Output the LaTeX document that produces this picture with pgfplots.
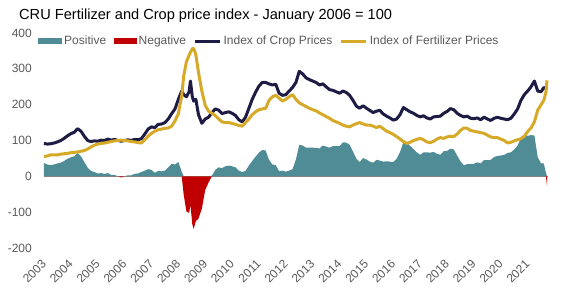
\documentclass[border=0pt]{standalone}
\usepackage{pgfplots}
\pgfplotsset{compat=1.18}
\usepackage{pgfplotstable}
\usepackage{fontspec}
\setmainfont{Liberation Sans}
\definecolor{posc}{RGB}{79,140,150}
\definecolor{negc}{RGB}{192,0,0}
\definecolor{cropc}{RGB}{30,27,68}
\definecolor{fertc}{RGB}{214,170,40}
\definecolor{txtc}{RGB}{89,89,89}

\pgfplotstableread{
t crop fert pos neg
2003.000 92 55 37 0
2003.125 90 57 33 0
2003.250 91 60 31 0
2003.375 93 60 33 0
2003.500 96 60 36 0
2003.625 100 62 38 0
2003.750 106 63 43 0
2003.875 113 64 49 0
2004.000 119 66 53 0
2004.125 123 67 56 0
2004.250 133 68 65 0
2004.375 126 70 56 0
2004.500 112 72 40 0
2004.625 100 76 24 0
2004.750 97 82 15 0
2004.875 99 87 12 0
2005.000 98 90 8 0
2005.125 101 92 9 0
2005.250 100 93 7 0
2005.375 104 95 9 0
2005.500 101 97 4 0
2005.625 103 99 4 0
2005.750 100 100 0 0
2005.875 98 101 0 -3
2006.000 100 100 0 0
2006.125 102 99 3 0
2006.250 100 97 3 0
2006.375 103 96 7 0
2006.500 102 94 8 0
2006.625 105 93 12 0
2006.750 118 102 16 0
2006.875 132 112 20 0
2007.000 138 120 18 0
2007.125 136 126 10 0
2007.250 145 130 15 0
2007.375 146 132 14 0
2007.500 150 134 16 0
2007.625 160 135 25 0
2007.750 175 140 35 0
2007.875 188 155 33 0
2008.000 215 175 40 0
2008.125 238 225 13 0
2008.200 228 280 0 -52
2008.300 222 320 0 -98
2008.400 236 338 0 -102
2008.450 266 346 0 -80
2008.520 222 356 0 -134
2008.570 210 357 0 -147
2008.650 215 340 0 -125
2008.750 172 290 0 -118
2008.875 148 238 0 -90
2009.000 160 198 0 -38
2009.125 165 182 0 -17
2009.250 178 176 2 0
2009.375 188 170 18 0
2009.500 185 160 25 0
2009.625 175 152 23 0
2009.750 178 150 28 0
2009.875 180 150 30 0
2010.000 176 148 28 0
2010.125 170 145 25 0
2010.250 158 142 16 0
2010.375 152 140 12 0
2010.500 165 150 15 0
2010.625 190 160 30 0
2010.750 215 172 43 0
2010.875 235 180 55 0
2011.000 252 186 66 0
2011.125 262 188 74 0
2011.250 262 190 72 0
2011.375 258 212 46 0
2011.500 255 222 33 0
2011.625 257 226 31 0
2011.750 232 218 14 0
2011.875 226 210 16 0
2012.000 228 215 13 0
2012.125 238 222 16 0
2012.250 248 228 20 0
2012.375 262 215 47 0
2012.500 293 205 88 0
2012.625 286 200 86 0
2012.750 275 195 80 0
2012.875 270 190 80 0
2013.000 266 186 80 0
2013.125 262 183 79 0
2013.250 255 177 78 0
2013.375 258 172 86 0
2013.500 250 167 83 0
2013.625 242 162 80 0
2013.750 240 156 84 0
2013.875 236 152 84 0
2014.000 232 148 84 0
2014.125 238 143 95 0
2014.250 234 140 94 0
2014.375 226 138 88 0
2014.500 212 143 69 0
2014.625 196 147 49 0
2014.750 190 150 40 0
2014.875 197 146 51 0
2015.000 190 143 47 0
2015.125 184 143 41 0
2015.250 178 140 38 0
2015.375 182 136 46 0
2015.500 184 140 44 0
2015.625 174 133 41 0
2015.750 168 126 42 0
2015.875 163 122 41 0
2016.000 157 117 40 0
2016.125 160 111 49 0
2016.250 172 104 68 0
2016.375 192 97 95 0
2016.500 186 92 94 0
2016.625 180 95 85 0
2016.750 176 100 76 0
2016.875 170 103 67 0
2017.000 166 106 60 0
2017.125 169 102 67 0
2017.250 163 96 67 0
2017.375 160 94 66 0
2017.500 166 98 68 0
2017.625 167 104 63 0
2017.750 168 108 60 0
2017.875 176 106 70 0
2018.000 181 110 71 0
2018.125 189 112 77 0
2018.250 186 111 75 0
2018.375 176 118 58 0
2018.500 170 128 42 0
2018.625 166 135 31 0
2018.750 168 134 34 0
2018.875 162 128 34 0
2019.000 161 126 35 0
2019.125 163 124 39 0
2019.250 158 122 36 0
2019.375 165 120 45 0
2019.500 160 115 45 0
2019.625 156 110 46 0
2019.750 162 108 54 0
2019.875 165 108 57 0
2020.000 162 104 58 0
2020.125 160 100 60 0
2020.250 158 93 65 0
2020.375 162 95 67 0
2020.500 174 99 75 0
2020.625 188 102 86 0
2020.750 212 105 107 0
2020.875 228 112 116 0
2021.000 238 125 113 0
2021.125 250 135 115 0
2021.250 266 152 114 0
2021.375 238 185 53 0
2021.500 236 200 36 0
2021.600 248 212 36 0
2021.680 245 235 10 0
2021.720 242 268 0 -26
}\data

\begin{document}
\begin{tikzpicture}[x=1pt,y=1pt]
\path[use as bounding box] (0,0) rectangle (569,298);
\node[anchor=base west, inner sep=0pt, font=\fontsize{14.6}{17}\selectfont] at (19,278) {CRU Fertilizer and Crop price index - January 2006 = 100};
\begin{axis}[
  at={(44pt,50pt)}, anchor=south west,
  scale only axis, width=504pt, height=215pt,
  xmin=2003, xmax=2021.757, ymin=-200, ymax=400,
  ytick={-200,-100,...,400},
  xtick={2003,2004,...,2021},
  axis line style={draw=none},
  major tick length=0pt,
  tick label style={font=\fontsize{12}{14}\selectfont, text=txtc},
  /pgf/number format/assume math mode=true,
  /pgf/number format/1000 sep={},
  yticklabel style={anchor=east, inner sep=0pt, xshift=-12pt},
  xticklabel style={rotate=45, anchor=east, inner sep=0pt},
  xticklabel shift=14pt,
  extra y ticks={0}, extra y tick labels={},
  extra y tick style={grid=major, major grid style={draw=gray!80, line width=0.9pt}},
  clip=false,
  legend columns=4,
  legend style={at={(-0.0119,0.9628)}, anchor=west, draw=none, fill=none,
    inner sep=0pt, font=\fontsize{12}{14}\selectfont, text=txtc,
    nodes={inner sep=0pt},
    /tikz/every odd column/.append style={column sep=2pt},
    /tikz/every even column/.append style={column sep=7.5pt}},
]
\addplot[draw=none, fill=posc,
  legend image code/.code={\fill[posc] (0pt,-3pt) rectangle (24pt,3pt);}]
  table[x=t, y=pos] {\data} \closedcycle;
\addlegendentry{Positive}
\addplot[draw=none, fill=negc,
  legend image code/.code={\fill[negc] (0pt,-3pt) rectangle (23pt,3pt);}]
  table[x=t, y=neg] {\data} \closedcycle;
\addlegendentry{Negative}
\addplot[cropc, line width=3pt, line join=round,
  legend image code/.code={\draw[cropc, line width=3pt] (0pt,0pt) -- (25pt,0pt);}]
  table[x=t, y=crop] {\data};
\addlegendentry{Index of Crop Prices}
\addplot[fertc, line width=3pt, line join=round,
  legend image code/.code={\draw[fertc, line width=3pt] (0pt,0pt) -- (25pt,0pt);}]
  table[x=t, y=fert] {\data};
\addlegendentry{Index of Fertilizer Prices}
\end{axis}
\end{tikzpicture}
\end{document}
